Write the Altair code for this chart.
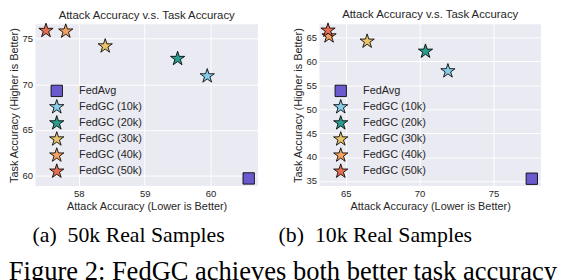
import altair as alt
import pandas as pd

methods = ["FedAvg", "FedGC (10k)", "FedGC (20k)", "FedGC (30k)", "FedGC (40k)", "FedGC (50k)"]
colors = ["#6a5acd", "#87ceeb", "#2a9d8f", "#e9c46a", "#f4a261", "#e76f51"]
outline = ["black"] * 6

# Panel (a): 50k real samples
attack_a = [60.58, 59.95, 59.50, 58.40, 57.80, 57.50]
task_a = [59.73, 70.9, 72.8, 74.17, 75.79, 75.86]
xticks_a = [58, 59, 60]
yticks_a = [60, 65, 70, 75]

# Panel (b): 10k real samples
attack_b = [77.6, 71.92, 70.4, 66.45, 63.87, 63.8]
task_b = [35.5, 58.0, 62.1, 64.2, 65.3, 66.5]
xticks_b = [65, 70, 75]
yticks_b = [35, 40, 45, 50, 55, 60, 65]

panel_title = "Attack Accuracy v.s. Task Accuracy"
x_title = "Attack Accuracy (Lower is Better)"
y_title = "Task Accuracy (Higher is Better)"
sub_a = "(a)\u00a0\u00a050k Real Samples"
sub_b = "(b)\u00a0\u00a010k Real Samples"
caption = "Figure 2: FedGC achieves both better task accuracy"

STAR = ("M0,-1L0.2245,-0.309L0.9511,-0.309L0.3633,0.118L0.5878,0.809L0,0.382"
        "L-0.5878,0.809L-0.3633,0.118L-0.9511,-0.309L-0.2245,-0.309Z")
SQUARE = "M-0.76,-0.76L0.76,-0.76L0.76,0.76L-0.76,0.76Z"
shapes = [SQUARE] + [STAR] * 5

SANS = "Liberation Sans"
SERIF = "Liberation Serif"
TXT = "#262626"


def panel(att, task, xdom, ydom, xt, yt, w, h, lx, ly):
    df = pd.DataFrame({"method": methods, "attack": att, "task": task})
    leg = alt.Legend(
        title=None, orient="none", legendX=lx, legendY=ly,
        labelFont=SANS, labelFontSize=11.5, labelColor=TXT, labelOffset=15,
        symbolSize=250, symbolOpacity=1, rowPadding=-2.4,
        symbolStrokeColor="black", symbolStrokeWidth=0.9,
    )
    return alt.Chart(df).mark_point(
        filled=True, opacity=1, strokeWidth=0.9, size=250
    ).encode(
        x=alt.X("attack:Q", scale=alt.Scale(domain=xdom, nice=False, zero=False),
                axis=alt.Axis(values=xt, title=x_title)),
        y=alt.Y("task:Q", scale=alt.Scale(domain=ydom, nice=False, zero=False),
                axis=alt.Axis(values=yt, title=y_title)),
        fill=alt.Fill("method:N", scale=alt.Scale(domain=methods, range=colors), legend=leg),
        stroke=alt.Stroke("method:N", scale=alt.Scale(domain=methods, range=outline), legend=leg),
        shape=alt.Shape("method:N", scale=alt.Scale(domain=methods, range=shapes), legend=leg),
    ).properties(
        width=w, height=h,
        title=alt.TitleParams(panel_title, font=SANS, fontSize=12, fontWeight="normal",
                              color=TXT, offset=0),
    )


pa = panel(attack_a, task_a, [57.34, 60.72], [58.9, 76.57], xticks_a, yticks_a, 235, 171, 14, 62)
pb = panel(attack_b, task_b, [63.22, 78.22], [33.97, 67.8], xticks_b, yticks_b, 234, 171, 14, 62)

left = alt.vconcat(pa, title=alt.TitleParams(sub_a, orient="bottom", anchor="start", font=SERIF,
                                             fontSize=23, fontWeight="normal", color="black",
                                             dx=25, offset=14))
right = alt.vconcat(pb, title=alt.TitleParams(sub_b, orient="bottom", anchor="start", font=SERIF,
                                              fontSize=23, fontWeight="normal", color="black",
                                              dx=-15, offset=14))

chart = alt.hconcat(left, right, spacing=21).properties(
    title=alt.TitleParams(caption, orient="bottom", anchor="start", font=SERIF, fontSize=28,
                          fontWeight="normal", color="black", offset=13),
    padding={"top": -8, "left": 0, "right": 0, "bottom": 0},
).resolve_scale(
    fill="independent", shape="independent", stroke="independent"
).resolve_legend(
    fill="independent", shape="independent", stroke="independent"
).configure_view(
    fill="#eaeaf2", strokeWidth=0
).configure_axis(
    grid=True, gridColor="white", gridWidth=1, domain=False, ticks=False,
    labelFont=SANS, labelFontSize=10, labelColor=TXT, labelPadding=3,
    titleFont=SANS, titleFontSize=11.5, titleFontWeight="normal", titleColor=TXT, titlePadding=3,
)

chart.save("out.html", embed_options={"renderer": "svg", "actions": False})
